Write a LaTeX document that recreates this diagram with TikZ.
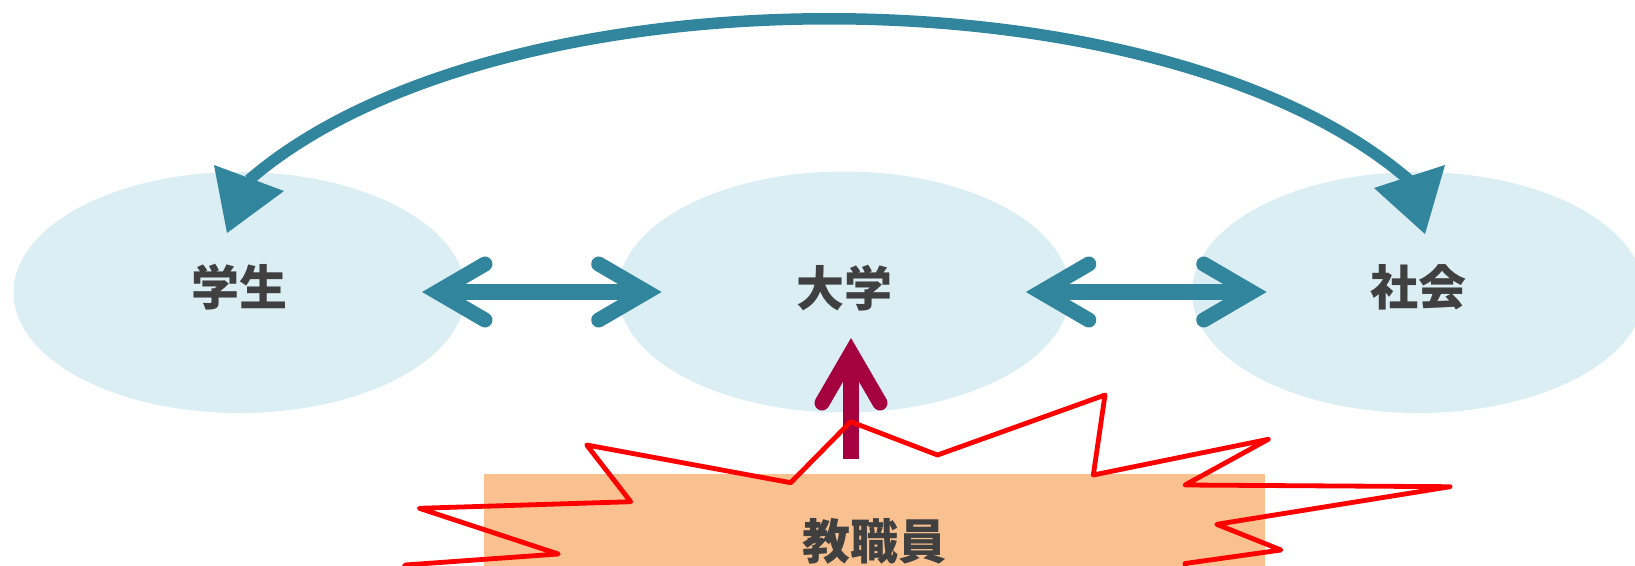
\documentclass[tikz,border=0pt]{standalone}
\usepackage{fontspec}
\newfontfamily\cjk{Noto Sans CJK JP}
\usetikzlibrary{calc,shapes.geometric}
\definecolor{tealc}{HTML}{31859C}
\definecolor{ellfill}{HTML}{DAEEF3}
\definecolor{txtgray}{HTML}{404040}
\definecolor{crim}{HTML}{A50040}
\definecolor{orangef}{HTML}{F9C090}
\definecolor{redline}{HTML}{FF0000}
\begin{document}
\begin{tikzpicture}[x=1pt,y=-1pt,
  ell/.style={ellipse, fill=ellfill, minimum width=452pt, minimum height=241pt, inner sep=0pt},
  lbl/.style={font=\cjk\bfseries\fontsize{48}{48}\selectfont, text=txtgray, inner sep=0pt},
  chev/.style={line width=15pt, line cap=round, line join=miter},
  shaft/.style={line width=16pt},
  arc/.style={line width=11.5pt, draw=tealc},
  burst/.style={draw=redline, line width=4.8pt, line join=round}]
\useasboundingbox (0,0) rectangle (1635,565);
\clip (0,0) rectangle (1635,565);
% ellipses
\node[ell] (stu) at (239.5,292.5) {};
\node[ell] (uni) at (844,292) {};
\node[ell] (soc) at (1418,292.5) {};
% double arrows
\coordinate (d1L) at (421.7,292);
\coordinate (d1R) at (662,292);
\coordinate (d2L) at (1025.5,292);
\coordinate (d2R) at (1267,292);
\foreach \a/\b in {d1L/d1R, d2L/d2R}{
  \draw[shaft, tealc] ($(\a)+(15,0)$) -- ($(\b)+(-15,0)$);
  \draw[chev, tealc] ($(\a)+(63.3,-28)$) -- ($(\a)+(15.3,0)$) -- ($(\a)+(63.3,28)$);
  \draw[chev, tealc] ($(\b)+(-63.3,-28)$) -- ($(\b)+(-15.3,0)$) -- ($(\b)+(-63.3,28)$);
}
% top curved arrow
\coordinate (cL) at (249,180);
\coordinate (cR) at (1409,180);
\draw[arc] (cL) .. controls ($(cL)+(249,-215)$) and ($(cR)+(-249,-215)$) .. (cR);
\fill[tealc] (214,165) -- (284,191) -- (227,233) -- cycle;
\fill[tealc] (1445,165) -- (1374,188) -- (1425,234) -- cycle;
% crimson arrow
\coordinate (vT) at (851,338);
\coordinate (vB) at (851,459);
\draw[shaft, crim] (vB) -- ($(vT)+(0,15)$);
\draw[chev, crim] ($(vT)+(-29,65)$) -- ($(vT)+(0,15)$) -- ($(vT)+(29,65)$);
% staff box
\node[fill=orangef, minimum width=781pt, minimum height=120pt, inner sep=0pt, anchor=north west] (staff) at (484,474) {};
% burst outline
\draw[burst] (398,600) -- (405,565) -- (558.3,554) -- (419.3,508.3) -- (630.7,501.7) -- (586.7,445)
  -- (790.7,482.7) -- (850.7,421.7) -- (937.5,455) -- (1105,395) -- (1093.3,475)
  -- (1268.3,439.3) -- (1185,485) -- (1450,486.7) -- (1216.7,524.3) -- (1281,550)
  -- (1185,563.5) -- (1192,600);
% labels
\node[lbl] (tstu) at ([yshift=5pt]stu.center) {学生};
\node[lbl] (tuni) at ([yshift=4pt]uni.center) {大学};
\node[lbl] (tsoc) at ([yshift=5pt]soc.center) {社会};
\node[lbl] (tstaff) at (874.5,541) {教職員};
\end{tikzpicture}
\end{document}
